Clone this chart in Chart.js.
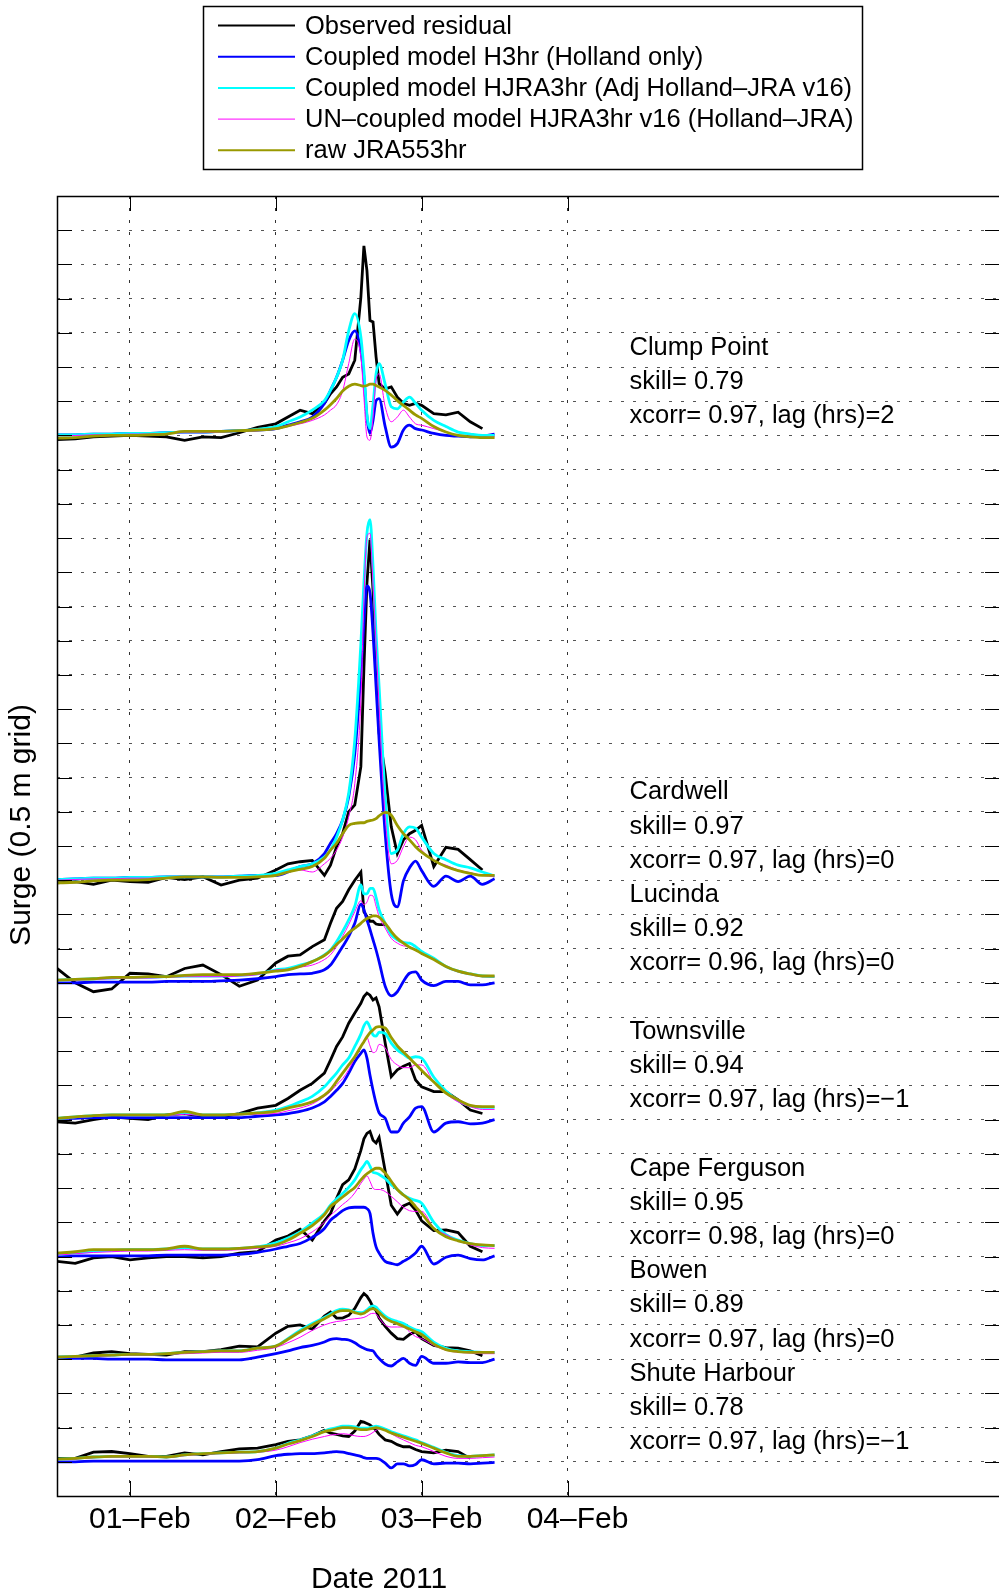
<!DOCTYPE html>
<html>
<head>
<meta charset="utf-8">
<script src="https://cdn.jsdelivr.net/npm/chart.js@4.4.0/dist/chart.umd.min.js"></script>
<style>
  body { margin: 0; background: #fff; }
  #wrap { width: 999px; height: 1593px; }
</style>
</head>
<body>
<div id="wrap"><canvas id="surge-chart" width="999" height="1593"></canvas></div>
<script>
// time axis: hours from 01-Feb-2011 00:00
const hours = [-12, -9, -6, -3, 0, 3, 6, 9, 12, 15, 18, 21,
  24, 26, 28, 30, 32, 33, 34, 35, 36, 37,
  38, 38.5, 39, 39.5, 40, 40.5, 41,
  42, 43, 44, 45, 46, 47, 48,
  50, 52, 54, 56, 58, 60];
const dayTicks = [0, 24, 48, 72];
const dayLabels = ["01–Feb", "02–Feb", "03–Feb", "04–Feb"];

const stations = ["Clump Point", "Cardwell", "Lucinda", "Townsville", "Cape Ferguson", "Bowen", "Shute Harbour"];
const offsets = [15.5, 9, 7.5, 5.5, 3.5, 2, 0.5]; // m, stacking of the stations
const skill = ["0.79", "0.97", "0.92", "0.94", "0.95", "0.89", "0.78"];
const xcorr = ["0.97", "0.97", "0.96", "0.97", "0.98", "0.97", "0.97"];
const lag = ["2", "0", "0", "−1", "0", "0", "−1"];

const seriesNames = ["Observed residual", "Coupled model H3hr (Holland only)", "Coupled model HJRA3hr (Adj Holland–JRA v16)", "UN–coupled model HJRA3hr v16 (Holland–JRA)", "raw JRA553hr"];
const seriesColors = ["#000000", "#0000ff", "#00ffff", "#ff00ff", "#999900"];
const seriesWidths = [2.8, 2.8, 2.8, 1, 2.8];

// surge residuals (m)
const clumpObs = [-0.06,-0.05,-0.02,-0.01,0,-0.01,-0.02,-0.07,-0.02,-0.03,0.04,0.12, 0.17,0.27,0.37,0.32,0.47,0.61,0.71,0.85,0.9,1.1, 2.02,2.77,2.41,1.68,1.66,1.15,0.76, 0.68,0.71,0.56,0.47,0.44,0.47,0.44, 0.32,0.3,0.34,0.2,0.1,null];
const clumpH3 = [0.01,0.01,0.02,0.02,0.03,0.03,0.04,0.05,0.05,0.06,0.07,0.08, 0.1,0.15,0.2,0.27,0.47,0.66,0.85,1.1,1.39,1.53, 1.24,0.85,0.27,0.03,0.22,0.51,0.54, 0.13,-0.17,-0.12,0.08,0.15,0.1,0.08, 0.03,0,-0.01,-0.02,-0.01,0.02];
const clumpHJRA = [0.01,0.01,0.02,0.02,0.03,0.03,0.04,0.05,0.05,0.06,0.07,0.09, 0.13,0.2,0.27,0.37,0.51,0.66,0.85,1.1,1.53,1.78, 1.44,0.95,0.3,0.1,0.45,0.9,1.05, 0.75,0.42,0.39,0.49,0.56,0.47,0.37, 0.22,0.13,0.05,0.02,0,0];
const clumpUN = [0,0,0.01,0.01,0.02,0.02,0.03,0.04,0.04,0.05,0.06,0.07, 0.1,0.13,0.17,0.22,0.3,0.37,0.45,0.65,1.05,1.41, 1.15,0.56,-0.02,-0.07,0.27,0.81,0.9, 0.42,0.2,0.27,0.37,0.27,0.17,0.15, 0.1,0.05,0,-0.02,-0.03,-0.02];
const clumpJRA = [-0.04,-0.03,-0.01,0,0,0.01,0.02,0.06,0.06,0.06,0.07,0.08, 0.1,0.14,0.19,0.25,0.37,0.45,0.54,0.65,0.72,0.75, 0.73,0.72,0.73,0.75,0.75,0.73,0.71, 0.66,0.59,0.51,0.44,0.37,0.3,0.25, 0.13,0.05,0,-0.02,-0.03,-0.03];

const cardObs = [-0.04,-0.02,-0.06,0,-0.02,-0.03,0.04,0.01,0.05,-0.07,0,0.03, 0.15,0.24,0.27,0.29,0.07,0.22,0.49,0.68,1.0,1.1, 1.66,3.1,4.34,4.98,4.24,3.12,2.15, 1.56,0.78,0.39,0.59,0.68,0.73,0.8, 0.2,0.48,0.45,0.3,0.15,null];
const cardH3 = [0.01,0.02,0.03,0.03,0.04,0.04,0.05,0.05,0.05,0.05,0.06,0.07, 0.07,0.12,0.2,0.24,0.39,0.54,0.68,0.88,1.22,1.85, 3.02,3.76,4.3,4.2,3.61,2.83,2.05, 0.68,-0.2,-0.39,-0.01,0.18,0.28,0.14, -0.09,0.06,-0.02,0.06,-0.06,0.02];
const cardHJRA = [0.01,0.02,0.03,0.03,0.04,0.04,0.05,0.05,0.05,0.05,0.06,0.07, 0.1,0.15,0.2,0.24,0.34,0.44,0.63,0.88,1.27,2.05, 3.46,4.34,5.07,5.27,4.59,3.6,2.83, 1.22,0.39,0.44,0.68,0.78,0.76,0.63, 0.39,0.3,0.22,0.18,0.12,0.06];
const cardUN = [0,0.01,0.02,0.02,0.03,0.03,0.04,0.04,0.04,0.04,0.05,0.05, 0.07,0.12,0.15,0.12,0.24,0.32,0.44,0.63,0.93,1.41, 2.63,4.1,5.02,5.07,4.34,3.46,2.54, 0.93,0.24,0.29,0.49,0.63,0.59,0.44, 0.29,0.22,0.15,0.11,0.07,0.05];
const cardJRA = [-0.04,-0.03,-0.01,0,0,0.01,0.03,0.05,0.05,0.04,0.04,0.05, 0.07,0.12,0.16,0.2,0.32,0.44,0.54,0.68,0.8,0.83, 0.84,0.84,0.86,0.87,0.88,0.9,0.94, 0.99,0.95,0.8,0.68,0.59,0.49,0.41, 0.29,0.2,0.14,0.1,0.07,0.07];

const lucObs = [0.21,0,-0.13,-0.09,0.14,0.13,0.09,0.21,0.26,0.12,-0.05,0.04, 0.29,0.39,0.41,0.53,0.63,0.87,1.09,1.19,1.36,1.5, 1.62,1.04,0.97,0.9,0.9,0.86,0.85, 0.85,null,null,null,null,null,null, null,null,null,null,null,null];
const lucH3 = [0,0,0.01,0.01,0.01,0.01,0.02,0.02,0.02,0.03,0.04,0.06, 0.09,0.12,0.13,0.14,0.19,0.26,0.39,0.53,0.68,0.87, 1.15,1.07,0.92,0.78,0.63,0.48,0.31, -0.05,-0.19,-0.13,0.02,0.14,0.16,0.04, -0.04,0.02,0.02,-0.03,-0.03,0];
const lucHJRA = [0.04,0.05,0.06,0.07,0.08,0.08,0.09,0.1,0.1,0.1,0.11,0.13, 0.19,0.21,0.26,0.31,0.41,0.48,0.6,0.75,0.92,1.12, 1.43,1.3,1.3,1.38,1.38,1.25,1.07, 0.87,0.7,0.63,0.59,0.58,0.53,0.46, 0.36,0.24,0.17,0.13,0.1,0.09];
const lucUN = [0.03,0.04,0.05,0.06,0.07,0.07,0.08,0.09,0.09,0.09,0.1,0.12, 0.19,0.2,0.23,0.26,0.34,0.41,0.53,0.68,0.85,1.04, 1.2,1.14,1.18,1.28,1.27,1.12,0.97, 0.8,0.65,0.58,0.54,0.53,0.49,0.43, 0.34,0.23,0.16,0.12,0.09,0.09];
const lucJRA = [0.04,0.05,0.06,0.08,0.08,0.09,0.09,0.11,0.12,0.12,0.12,0.14, 0.17,0.19,0.24,0.31,0.4,0.47,0.56,0.64,0.73,0.8, 0.87,0.91,0.94,0.96,0.98,0.98,0.96, 0.87,0.75,0.65,0.58,0.52,0.48,0.43, 0.34,0.24,0.17,0.13,0.1,0.1];

const townObs = [-0.03,-0.05,0,0.04,0.02,0,0.07,0.09,0.05,0.04,0.09,0.17, 0.21,0.31,0.43,0.53,0.68,0.87,1.07,1.21,1.41,1.56, 1.7,1.8,1.85,1.82,1.75,1.78,1.65, 1.12,0.63,0.73,0.78,0.82,0.58,0.48, 0.41,0.41,0.29,0.14,0.09,null];
const townH3 = [0.02,0.02,0.03,0.03,0.03,0.03,0.03,0.03,0.03,0.03,0.03,0.05, 0.07,0.09,0.12,0.17,0.26,0.34,0.43,0.53,0.68,0.85, 0.97,1.02,0.9,0.65,0.43,0.24,0.1, 0.02,-0.18,-0.18,-0.05,0.04,0.17,0.19, -0.18,-0.05,-0.03,-0.06,-0.05,0];
const townHJRA = [0.02,0.04,0.06,0.07,0.07,0.07,0.07,0.1,0.07,0.07,0.08,0.1, 0.14,0.19,0.26,0.34,0.48,0.58,0.68,0.8,0.9,1.07, 1.25,1.37,1.43,1.35,1.24,1.22,1.28, 1.26,1.12,1.02,0.96,0.9,0.92,0.9, 0.62,0.42,0.28,0.2,0.18,0.18];
const townUN = [0.02,0.03,0.05,0.06,0.06,0.06,0.06,0.08,0.06,0.06,0.07,0.08, 0.09,0.13,0.17,0.23,0.34,0.41,0.51,0.6,0.73,0.9, 1.05,1.15,1.2,1.08,0.98,1.0,1.1, 1.05,0.88,0.8,0.76,0.76,0.8,0.8, 0.55,0.38,0.26,0.19,0.15,0.15];
const townJRA = [0.02,0.04,0.06,0.07,0.07,0.07,0.07,0.12,0.07,0.07,0.08,0.1, 0.12,0.17,0.21,0.26,0.36,0.44,0.56,0.68,0.8,0.92, 1.07,1.14,1.21,1.27,1.31,1.35,1.36, 1.34,1.2,1.08,0.99,0.9,0.81,0.72, 0.55,0.39,0.29,0.21,0.19,0.19];

const capeObs = [-0.07,-0.1,-0.02,0,-0.05,-0.02,0,0,-0.02,0,0.05,0.07, 0.24,0.3,0.4,0.24,0.52,0.63,0.85,1.05,1.12,1.28, 1.55,1.72,1.8,1.83,1.7,1.66,1.74, 1.25,0.75,0.62,0.74,0.78,0.68,0.52, 0.38,0.39,0.35,0.15,0.07,null];
const capeH3 = [0,0.01,0.01,0.01,0.01,0.01,0.02,0.02,0.02,0.02,0.03,0.06, 0.11,0.15,0.19,0.28,0.41,0.53,0.6,0.67,0.71,0.72, 0.72,0.72,0.7,0.63,0.34,0.14,0.05, -0.07,-0.1,-0.12,-0.07,-0.02,0.05,0.15, -0.11,-0.01,0.02,-0.03,-0.05,0.01];
const capeHJRA = [0.03,0.05,0.08,0.09,0.1,0.1,0.11,0.13,0.11,0.11,0.12,0.14, 0.2,0.27,0.36,0.49,0.63,0.75,0.84,0.92,1.01,1.12, 1.27,1.33,1.39,1.32,1.23,1.22,1.2, 1.14,1.05,0.98,0.9,0.85,0.82,0.78, 0.5,0.32,0.24,0.19,0.16,0.16];
const capeUN = [0.02,0.04,0.06,0.07,0.08,0.08,0.09,0.1,0.09,0.09,0.1,0.12, 0.15,0.2,0.26,0.36,0.5,0.6,0.68,0.76,0.83,0.93, 1.07,1.13,1.18,1.1,1.0,0.98,0.98, 0.95,0.88,0.8,0.72,0.67,0.66,0.66, 0.42,0.32,0.23,0.17,0.13,0.12];
const capeJRA = [0.05,0.07,0.1,0.1,0.1,0.1,0.11,0.15,0.11,0.11,0.12,0.14, 0.17,0.24,0.34,0.45,0.61,0.73,0.8,0.87,0.94,1.01, 1.12,1.17,1.21,1.24,1.27,1.29,1.29, 1.22,1.1,0.98,0.9,0.83,0.73,0.63, 0.41,0.29,0.23,0.19,0.17,0.16];

const bowObs = [0.03,0.03,0.09,0.11,0.08,0.07,0.06,0.11,0.11,0.14,0.19,0.18, 0.38,0.48,0.5,0.44,0.63,0.69,0.6,0.6,0.64,0.74, 0.9,0.96,0.92,0.85,0.76,0.71,0.6, 0.48,0.38,0.3,0.29,0.36,0.4,0.3, 0.2,0.17,0.16,0.12,0.05,null];
const bowH3 = [0.01,0.01,0.01,0,0,0,-0.01,-0.01,-0.01,-0.01,-0.01,0.03, 0.08,0.12,0.17,0.2,0.25,0.29,0.3,0.29,0.28,0.24, 0.18,0.16,0.14,0.13,0.12,0.06,0.01, -0.07,-0.1,-0.04,0.01,-0.06,-0.09,0.04, -0.06,-0.06,-0.04,-0.05,-0.05,0];
const bowHJRA = [0.03,0.04,0.05,0.06,0.07,0.07,0.08,0.1,0.11,0.12,0.12,0.16, 0.19,0.3,0.42,0.52,0.61,0.66,0.71,0.73,0.72,0.69, 0.68,0.69,0.72,0.76,0.78,0.76,0.71, 0.63,0.58,0.55,0.52,0.47,0.43,0.4, 0.25,0.16,0.12,0.11,0.1,0.1];
const bowUN = [0.02,0.03,0.04,0.05,0.06,0.06,0.07,0.08,0.09,0.1,0.1,0.13, 0.17,0.24,0.32,0.42,0.5,0.53,0.55,0.56,0.58,0.59, 0.6,0.61,0.63,0.66,0.67,0.66,0.6, 0.5,0.47,0.47,0.47,0.4,0.33,0.3, 0.2,0.13,0.1,0.09,0.08,0.08];
const bowJRA = [0.03,0.04,0.05,0.06,0.07,0.07,0.08,0.1,0.11,0.12,0.12,0.16, 0.19,0.29,0.4,0.5,0.59,0.64,0.69,0.71,0.71,0.68, 0.66,0.67,0.7,0.73,0.74,0.72,0.68, 0.6,0.55,0.52,0.48,0.44,0.4,0.36, 0.22,0.14,0.11,0.1,0.1,0.1];

const shuteObs = [0.05,0.05,0.14,0.15,0.12,0.08,0.08,0.13,0.1,0.15,0.19,0.2, 0.25,0.3,0.32,0.38,0.46,0.42,0.4,0.38,0.37,0.45, 0.59,0.58,0.56,0.54,0.5,0.46,0.4, 0.32,0.3,0.25,0.22,0.22,0.18,0.15, 0.13,0.17,0.15,0.05,null,null];
const shuteH3 = [0,0,0.01,0.01,0.01,0.01,0.01,0.01,0.01,0.01,0.01,0.03, 0.09,0.11,0.12,0.12,0.13,0.14,0.15,0.14,0.12,0.1, 0.08,0.06,0.05,0.05,0.05,0.05,0.04, -0.02,-0.09,-0.03,-0.03,-0.06,-0.04,0.03, -0.03,-0.02,-0.02,-0.03,-0.02,-0.01];
const shuteHJRA = [0.04,0.05,0.07,0.08,0.08,0.08,0.07,0.1,0.12,0.13,0.14,0.15, 0.2,0.27,0.32,0.38,0.45,0.48,0.5,0.52,0.52,0.51, 0.49,0.49,0.49,0.5,0.51,0.52,0.51, 0.48,0.44,0.41,0.38,0.35,0.32,0.28, 0.21,0.14,0.09,0.08,0.09,0.1];
const shuteUN = [0.03,0.04,0.06,0.07,0.07,0.07,0.06,0.09,0.11,0.12,0.13,0.14, 0.17,0.22,0.28,0.33,0.37,0.39,0.4,0.41,0.4,0.38, 0.37,0.37,0.38,0.4,0.43,0.46,0.48, 0.47,0.41,0.36,0.32,0.28,0.24,0.22, 0.15,0.08,0.05,0.05,0.06,0.07];
const shuteJRA = [0.04,0.05,0.07,0.08,0.08,0.08,0.07,0.1,0.12,0.13,0.14,0.15, 0.2,0.26,0.31,0.37,0.44,0.46,0.48,0.5,0.5,0.49, 0.47,0.47,0.47,0.48,0.49,0.5,0.49, 0.46,0.42,0.39,0.36,0.33,0.3,0.27, 0.2,0.13,0.08,0.08,0.09,0.1];

const allSeries = [
  [clumpObs, clumpH3, clumpHJRA, clumpUN, clumpJRA],
  [cardObs, cardH3, cardHJRA, cardUN, cardJRA],
  [lucObs, lucH3, lucHJRA, lucUN, lucJRA],
  [townObs, townH3, townHJRA, townUN, townJRA],
  [capeObs, capeH3, capeHJRA, capeUN, capeJRA],
  [bowObs, bowH3, bowHJRA, bowUN, bowJRA],
  [shuteObs, shuteH3, shuteHJRA, shuteUN, shuteJRA],
];

const FONT = "'Liberation Sans', Arial, Helvetica, sans-serif";

const datasets = [];
allSeries.forEach(function (set, s) {
  set.forEach(function (vals, k) {
    datasets.push({
      label: seriesNames[k],
      data: hours.map(function (h, i) {
        return { x: h, y: vals[i] === null ? null : vals[i] + offsets[s] };
      }),
      borderColor: seriesColors[k],
      borderWidth: seriesWidths[k],
      pointRadius: 0,
      tension: k === 0 ? 0 : 0.4,
      cubicInterpolationMode: k === 0 ? "default" : "monotone",
      order: 5 - k, // later series on top, like the original plot order
    });
  });
});

// box, inward ticks, legend, station notes and axis titles
const matlabFrame = {
  id: "matlabFrame",
  afterDraw(chart) {
    const ctx = chart.ctx;
    const a = chart.chartArea;
    const xs = chart.scales.x;
    const ys = chart.scales.y;
    ctx.save();

    ctx.strokeStyle = "#000";
    ctx.lineWidth = 1;
    ctx.beginPath();
    for (let k = 1; k < 38; k++) {
      const y = Math.round(ys.getPixelForValue(k / 2)) + 0.5;
      ctx.moveTo(a.left, y);
      ctx.lineTo(a.left + 15, y);
      ctx.moveTo(a.right - 14, y);
      ctx.lineTo(a.right, y);
    }
    dayTicks.forEach(function (v) {
      const x = Math.round(xs.getPixelForValue(v)) + 0.5;
      ctx.moveTo(x, a.bottom);
      ctx.lineTo(x, a.bottom - 15);
      ctx.moveTo(x, a.top);
      ctx.lineTo(x, a.top + 15);
    });
    ctx.stroke();

    ctx.lineWidth = 1.5;
    ctx.beginPath();
    ctx.moveTo(a.right + 2, a.top + 0.5);
    ctx.lineTo(a.left + 0.5, a.top + 0.5);
    ctx.lineTo(a.left + 0.5, a.bottom + 0.5);
    ctx.lineTo(a.right + 2, a.bottom + 0.5);
    ctx.stroke();

    // legend
    ctx.fillStyle = "#fff";
    ctx.fillRect(203, 6, 659, 163);
    ctx.lineWidth = 1.5;
    ctx.strokeStyle = "#000";
    ctx.strokeRect(203.5, 6.5, 659, 163);
    ctx.font = "25.5px " + FONT;
    ctx.textBaseline = "middle";
    ctx.textAlign = "left";
    seriesNames.forEach(function (name, i) {
      const y = 25.5 + i * 31.2;
      ctx.strokeStyle = seriesColors[i];
      ctx.lineWidth = i === 3 ? 1 : 2;
      ctx.beginPath();
      ctx.moveTo(218, y);
      ctx.lineTo(295, y);
      ctx.stroke();
      ctx.fillStyle = "#000";
      ctx.fillText(name, 305, y + 1);
    });

    // station notes
    const tx = xs.getPixelForValue(82.2);
    stations.forEach(function (name, s) {
      const base = offsets[s];
      ctx.fillText(name, tx, ys.getPixelForValue(base + 1.3) + 1);
      ctx.fillText("skill= " + skill[s], tx, ys.getPixelForValue(base + 0.8) + 1);
      ctx.fillText("xcorr= " + xcorr[s] + ", lag (hrs)=" + lag[s], tx, ys.getPixelForValue(base + 0.3) + 1);
    });

    // axis titles
    ctx.font = "30px " + FONT;
    ctx.textAlign = "center";
    ctx.fillText("Date 2011", 379, 1580);
    ctx.translate(22, 825);
    ctx.rotate(-Math.PI / 2);
    ctx.fillText("Surge (0.5 m grid)", 0, 0);
    ctx.restore();
  },
};

new Chart(document.getElementById("surge-chart"), {
  type: "line",
  data: { datasets: datasets },
  options: {
    responsive: false,
    animation: false,
    devicePixelRatio: 1,
    layout: { padding: { left: 57, top: 196, right: 0, bottom: 60 } },
    plugins: { legend: { display: false }, tooltip: { enabled: false } },
    scales: {
      x: {
        type: "linear",
        min: -12,
        max: 143,
        afterBuildTicks: function (scale) {
          scale.ticks = dayTicks.map(function (v) { return { value: v }; });
        },
        afterFit: function (scale) { scale.height = 37; },
        ticks: {
          autoSkip: false,
          maxRotation: 0,
          padding: 6,
          labelOffset: 10,
          color: "#000",
          font: { family: FONT, size: 30 },
          callback: function (v, i) { return dayLabels[i]; },
        },
        grid: { color: "#333", lineWidth: 1, drawTicks: false },
        border: { display: false, dash: [3, 9] },
      },
      y: {
        min: 0,
        max: 19,
        afterFit: function (scale) { scale.width = 0; },
        ticks: { stepSize: 0.5, display: false },
        grid: { color: "#555", lineWidth: 1, drawTicks: false },
        border: { display: false, dash: [3, 9] },
      },
    },
  },
  plugins: [matlabFrame],
});
</script>
</body>
</html>
